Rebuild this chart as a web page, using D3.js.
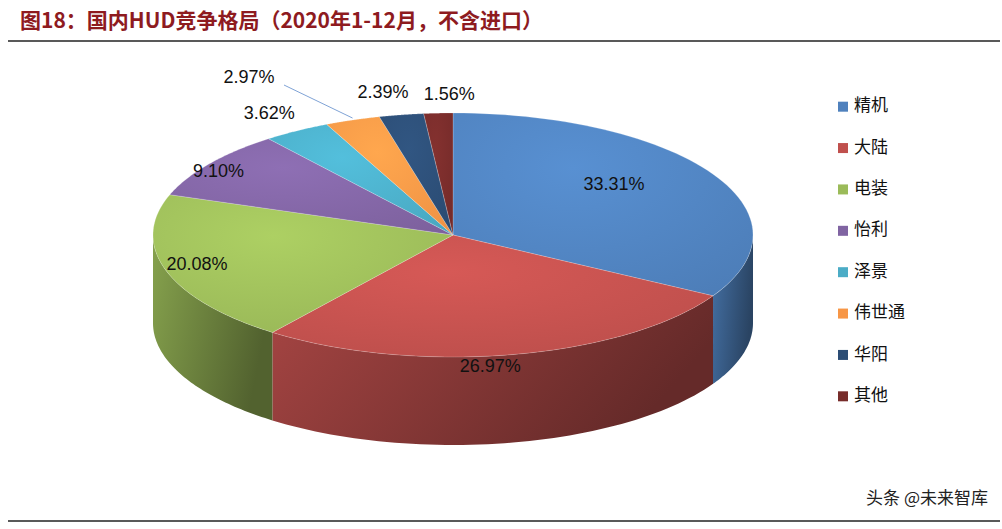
<!DOCTYPE html>
<html><head><meta charset="utf-8">
<script src="https://cdn.jsdelivr.net/npm/d3@7/dist/d3.min.js"></script>
<style>body{margin:0;background:#fff}svg{display:block}</style></head>
<body><svg id="c" width="1002" height="529"></svg>
<script>
const categories=["精机","大陆","电装","怡利","泽景","伟世通","华阳","其他"];
const values=[33.31,26.97,20.08,9.10,3.62,2.97,2.39,1.56];
const colors=["#4F81BD","#C0504D","#9BBB59","#8064A2","#4BACC6","#F79646","#2C4D75","#772C2A"];
const labelR=[0.62,0.62,0.85,0.88,1.2,1.2,1.2,1.2];
const labelDy=[-12,58,0,0,4,0,2,6];
const labelDx=[0,0,-12,-20,4,0,-8,14];

const svg=d3.select("#c");
const cx=453,cy=235,rx=300,ry=122,depth=88;
const defs=svg.append("defs");
svg.append("text").attr("x",20).attr("y",28).attr("font-family","Noto Sans CJK SC, sans-serif")
 .attr("font-weight","bold").attr("font-size",21).attr("fill","#8E1B1F")
 .text("图18：国内HUD竞争格局（2020年1-12月，不含进口）");
svg.append("line").attr("x1",8).attr("x2",1000).attr("y1",41).attr("y2",41).attr("stroke","#222").attr("stroke-width",1.5);
svg.append("line").attr("x1",8).attr("x2",1000).attr("y1",521).attr("y2",521).attr("stroke","#222").attr("stroke-width",1.5);

const pie=d3.pie().sort(null).value(d=>d)(values);
const pt=(a,r=1,dy=0)=>[cx+rx*r*Math.sin(a),cy-ry*r*Math.cos(a)+dy];

colors.forEach((c,i)=>{
  const g=defs.append("linearGradient").attr("id","s"+i).attr("x1","0").attr("x2","1").attr("y1","0").attr("y2","0.3");
  g.append("stop").attr("offset","0").attr("stop-color",d3.color(c).darker(0.4));
  g.append("stop").attr("offset","1").attr("stop-color",d3.color(c).darker(1.8));
  const t=defs.append("radialGradient").attr("id","t"+i).attr("cx","0.4").attr("cy","0.3").attr("r","0.9");
  t.append("stop").attr("offset","0").attr("stop-color",d3.color(c).brighter(0.3));
  t.append("stop").attr("offset","1").attr("stop-color",d3.color(c).darker(0.1));
});

function arcPath(a1,a2,dy,n=60){
  const pts=[];for(let k=0;k<=n;k++){pts.push(pt(a1+(a2-a1)*k/n,1,dy));}return pts;
}
pie.forEach((p,i)=>{
  let a1=Math.max(p.startAngle,Math.PI/2),a2=Math.min(p.endAngle,3*Math.PI/2);
  if(a2<=a1)return;
  const top=arcPath(a1,a2,0),bot=arcPath(a2,a1,depth);
  svg.append("path").attr("d","M"+top.concat(bot).map(q=>q.join(",")).join("L")+"Z")
   .attr("fill","url(#s"+i+")");
});
pie.forEach((p,i)=>{
  const pts=[[cx,cy]].concat(arcPath(p.startAngle,p.endAngle,0));
  svg.append("path").attr("d","M"+pts.map(q=>q.join(",")).join("L")+"Z")
   .attr("fill","url(#t"+i+")").attr("stroke","#fff").attr("stroke-width",0.5).attr("stroke-opacity",0.4);
});
pie.forEach((p,i)=>{
  const m=(p.startAngle+p.endAngle)/2;
  let [x,y]=pt(m,labelR[i],labelDy[i]);x+=labelDx[i];
  if(i===5){
    const e=pt(m,1.0);x=249;y=78;
    svg.append("line").attr("x1",284).attr("y1",85).attr("x2",e[0]).attr("y2",e[1]-2).attr("stroke","#7FA3D6").attr("stroke-width",1);
  }
  svg.append("text").attr("x",x).attr("y",y).attr("text-anchor","middle").attr("dominant-baseline","middle")
   .attr("font-family","Liberation Sans, Arial, sans-serif").attr("font-size",18).attr("fill","#111")
   .text(values[i].toFixed(2)+"%");
});
const ly=d3.scaleBand().domain(categories).range([86,417]);
categories.forEach((c,i)=>{
  const y=ly(c)+ly.bandwidth()/2;
  svg.append("rect").attr("x",838).attr("y",y-5).attr("width",10).attr("height",10).attr("fill",colors[i]);
  svg.append("text").attr("x",854).attr("y",y).attr("dominant-baseline","middle")
   .attr("font-family","Noto Sans CJK SC, sans-serif").attr("font-size",17).attr("fill","#111").text(c);
});
svg.append("text").attr("x",988).attr("y",504).attr("text-anchor","end").attr("font-family","Noto Sans CJK SC, sans-serif")
 .attr("font-size",17).attr("fill","#222").text("头条 @未来智库");
</script></body></html>
